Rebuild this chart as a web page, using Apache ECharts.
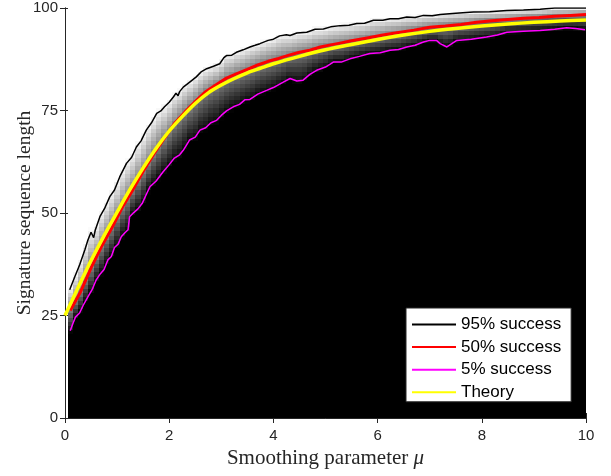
<!DOCTYPE html>
<html>
<head>
<meta charset="utf-8">
<script src="https://cdn.jsdelivr.net/npm/echarts@6/dist/echarts.min.js"></script>
<style>
  html, body { margin: 0; padding: 0; background: #ffffff; }
  #chart { width: 611px; height: 476px; }
</style>
</head>
<body>
<div id="chart"></div>
<script>
// Empirical success contours: [smoothing parameter mu, signature sequence length]
const contour95 = [
  [0.09,31.3],[0.19,34.5],[0.28,37.3],[0.38,41.0],[0.44,43.4],[0.50,45.3],[0.55,44.0],[0.58,45.8],
  [0.67,49.1],[0.76,51.1],[0.86,54.0],[0.95,55.6],[1.05,58.8],[1.18,62.1],[1.28,63.6],[1.37,66.1],
  [1.46,67.6],[1.56,70.2],[1.66,72.0],[1.76,74.3],[1.84,74.9],[1.91,75.9],[2.00,77.0],[2.08,78.3],
  [2.13,79.2],[2.17,78.6],[2.20,79.6],[2.27,80.7],[2.40,82.0],[2.52,83.2],[2.62,84.5],[2.72,85.2],
  [2.85,85.8],[2.97,86.4],[3.05,87.9],[3.10,88.4],[3.20,88.5],[3.29,89.2],[3.42,89.8],[3.55,90.5],
  [3.65,90.9],[3.74,91.3],[3.90,92.1],[4.00,92.4],[4.12,93.2],[4.25,93.5],[4.32,93.3],[4.45,93.9],
  [4.64,94.1],[4.80,94.8],[4.96,94.9],[5.10,95.4],[5.28,95.7],[5.45,95.8],[5.60,96.2],[5.75,96.3],
  [5.92,97.0],[6.10,97.0],[6.24,97.4],[6.40,97.4],[6.56,97.8],[6.72,97.7],[6.88,98.2],[7.05,98.1],
  [7.20,98.4],[7.50,98.7],[7.84,99.0],[8.15,99.1],[8.48,99.4],[8.80,99.5],[9.12,99.7],[9.40,100],[10,100]
];
const contour50 = [
  [0.10,26.2],[0.30,30.8],[0.50,36.6],[0.70,41.8],[0.90,46.4],[1.10,51.4],[1.30,55.6],[1.50,60.2],
  [1.70,64.3],[1.90,68.1],[2.10,71.8],[2.30,74.6],[2.50,77.2],[2.70,79.6],[2.90,81.3],[3.10,82.9],
  [3.30,84.0],[3.50,85.0],[3.70,86.1],[3.90,87.0],[4.10,87.7],[4.30,88.5],[4.50,89.2],[4.70,89.7],
  [4.90,90.5],[5.10,91.0],[5.30,91.5],[5.50,92.0],[5.80,92.7],[6.10,93.4],[6.40,94.0],[6.70,94.6],
  [7.00,95.3],[7.30,95.6],[7.60,96.0],[7.90,96.5],[8.20,96.9],[8.50,97.2],[8.80,97.5],[9.10,97.7],
  [9.40,98.0],[9.70,98.2],[10,98.4]
];
const contour5 = [
  [0.10,21.3],[0.15,23.0],[0.20,24.6],[0.28,25.6],[0.35,27.5],[0.45,29.8],[0.52,31.3],[0.60,33.7],
  [0.68,35.2],[0.75,36.2],[0.82,38.5],[0.89,39.4],[0.95,41.6],[1.02,42.4],[1.08,44.2],[1.15,45.2],
  [1.21,45.9],[1.24,49.1],[1.32,50.1],[1.40,51.0],[1.48,52.3],[1.56,54.5],[1.63,56.4],[1.75,57.8],
  [1.88,60.0],[2.00,61.8],[2.10,63.4],[2.20,64.2],[2.27,65.3],[2.39,67.8],[2.50,68.5],[2.59,70.2],
  [2.70,70.8],[2.80,72.0],[2.91,72.6],[3.00,73.8],[3.10,74.9],[3.23,75.9],[3.35,76.5],[3.45,77.6],
  [3.55,77.7],[3.70,79.0],[3.87,79.9],[4.00,80.6],[4.19,81.9],[4.32,82.8],[4.45,82.2],[4.57,82.4],
  [4.70,83.8],[4.83,84.8],[5.00,85.6],[5.15,86.8],[5.30,86.8],[5.47,87.6],[5.65,88.2],[5.85,88.9],
  [6.05,89.1],[6.24,89.7],[6.40,89.9],[6.56,90.5],[6.72,90.9],[6.88,91.7],[7.00,92.1],[7.13,92.1],
  [7.20,91.3],[7.33,90.5],[7.52,92.1],[7.80,92.4],[8.09,92.9],[8.30,93.4],[8.48,94.1],[8.80,94.3],
  [9.12,94.5],[9.40,94.8],[9.63,95.2],[9.80,95.0],[9.98,94.7]
];
// Predicted transition length
const theory = [
  [0,25],[0.25,31.8],[0.5,38.4],[0.75,44.5],[1,50.2],[1.25,55.8],[1.5,61.0],[1.75,65.8],[2,70.0],
  [2.25,73.5],[2.5,76.7],[2.75,79.3],[3,81.2],[3.25,82.8],[3.5,84.2],[3.75,85.3],[4,86.4],[4.5,88.2],
  [5,89.8],[5.5,91.1],[6,92.3],[6.5,93.4],[7,94.3],[7.5,95.0],[8,95.6],[8.5,96.1],[9,96.5],[9.5,96.8],[10,97.1]
];
// Grid of simulated cells
const muCells = Array.from({length: 100}, (_, i) => +((i + 1) / 10).toFixed(1));
const lengthCells = Array.from({length: 101}, (_, i) => i);
const seriesNames = ['95% success', '50% success', '5% success', 'Theory'];

function lengthAt(curve, mu) {
  if (mu <= curve[0][0]) return curve[0][1];
  for (let i = 1; i < curve.length; i++) {
    if (mu <= curve[i][0]) {
      const [x0, y0] = curve[i - 1], [x1, y1] = curve[i];
      return y0 + (y1 - y0) * (mu - x0) / (x1 - x0);
    }
  }
  return curve[curve.length - 1][1];
}

// Success rate of each cell, placed between the 5/50/95% levels of its column
function successRate(mu, len) {
  const a = lengthAt(contour5, mu), b = lengthAt(contour50, mu), c = lengthAt(contour95, mu);
  let v;
  if (len <= a) v = 0.05 - 0.45 * (a - len) / (b - a);
  else if (len <= b) v = 0.05 + 0.45 * (len - a) / (b - a);
  else if (len <= c) v = 0.5 + 0.45 * (len - b) / (c - b);
  else v = 0.95 + 0.45 * (len - c) / (c - b);
  return Math.max(0, Math.min(1, v));
}

const cells = [];
muCells.forEach(mu => lengthCells.forEach(len => cells.push([mu, len, successRate(mu, len)])));

const axisColor = '#262626';
const chart = echarts.init(document.getElementById('chart'), null, {renderer: 'canvas'});

function lineSeries(name, data, color, width, extra) {
  return Object.assign({
    name, type: 'line', data, showSymbol: false, symbol: 'none',
    lineStyle: {color, width}, itemStyle: {color}, z: 3, silent: true
  }, extra || {});
}

chart.setOption({
  animation: false,
  backgroundColor: '#ffffff',
  grid: {left: 65, right: 25, top: 8, bottom: 58, outerBoundsMode: 'none', containLabel: false},
  xAxis: [{
    type: 'value', min: 0, max: 10, interval: 2, position: 'bottom',
    name: 'Smoothing parameter {i|μ}', nameLocation: 'middle', nameGap: 30, nameMoveOverlap: false,
    nameTextStyle: {fontFamily: 'Liberation Serif', fontSize: 21, color: axisColor,
      rich: {i: {fontFamily: 'Liberation Serif', fontStyle: 'italic', fontSize: 21, color: axisColor}}},
    axisLine: {show: true, lineStyle: {color: axisColor, width: 1}},
    axisTick: {show: true, inside: true, length: 5, lineStyle: {color: axisColor}},
    axisLabel: {fontFamily: 'Liberation Sans', fontSize: 15, color: axisColor, margin: 10},
    splitLine: {show: false}
  }, {
    type: 'value', min: 0, max: 10, interval: 2, position: 'top',
    axisLine: {show: true, lineStyle: {color: axisColor, width: 1}},
    axisTick: {show: true, inside: true, length: 5, lineStyle: {color: axisColor}},
    axisLabel: {show: false}, splitLine: {show: false}
  }],
  yAxis: [{
    type: 'value', min: 0, max: 100, interval: 25, position: 'left',
    name: 'Signature sequence length', nameLocation: 'middle', nameGap: 30, nameMoveOverlap: false,
    nameTextStyle: {fontFamily: 'Liberation Serif', fontSize: 19.5, color: axisColor},
    axisLine: {show: true, lineStyle: {color: axisColor, width: 1}},
    axisTick: {show: true, inside: true, length: 5, lineStyle: {color: axisColor}},
    axisLabel: {fontFamily: 'Liberation Sans', fontSize: 15, color: axisColor, margin: 7},
    splitLine: {show: false}
  }, {
    type: 'value', min: 0, max: 100, interval: 25, position: 'right',
    axisLine: {show: true, lineStyle: {color: axisColor, width: 1}},
    axisTick: {show: true, inside: true, length: 5, lineStyle: {color: axisColor}},
    axisLabel: {show: false}, splitLine: {show: false}
  }],
  legend: {
    data: seriesNames, orient: 'vertical', left: 406, top: 308,
    padding: [8, 10, 1, 5], itemGap: 5.6, itemWidth: 44, itemHeight: 20,
    backgroundColor: '#ffffff', borderColor: '#262626', borderWidth: 1, borderRadius: 0,
    itemStyle: {opacity: 0},
    textStyle: {fontFamily: 'Liberation Sans', fontSize: 17, color: '#000000'},
    selectedMode: false
  },
  series: [
    {
      type: 'custom', name: 'success rate', data: cells, z: 1, silent: true,
      encode: {x: 0, y: 1},
      renderItem(params, api) {
        const mu = api.value(0), len = api.value(1), v = api.value(2);
        const p0 = api.coord([mu - 0.05, len + 0.5]);
        const p1 = api.coord([mu + 0.05, len - 0.5]);
        const x0 = Math.round(p0[0]), x1 = Math.round(p1[0]);
        const y0 = Math.round(p0[1]), y1 = Math.round(p1[1]);
        const shape = echarts.graphic.clipRectByRect(
          {x: x0, y: y0, width: x1 - x0, height: y1 - y0},
          {x: params.coordSys.x, y: params.coordSys.y, width: params.coordSys.width, height: params.coordSys.height}
        );
        if (!shape) return null;
        const g = Math.round(v * 255);
        return {type: 'rect', shape, style: {fill: 'rgb(' + g + ',' + g + ',' + g + ')', lineWidth: 0}};
      }
    },
    lineSeries(seriesNames[0], contour95, '#000000', 1.5),
    lineSeries(seriesNames[1], contour50, '#ff0000', 3),
    lineSeries(seriesNames[2], contour5, '#ff00ff', 1.5),
    lineSeries(seriesNames[3], theory, '#ffff00', 3.5, {smooth: 0.3, z: 4})
  ]
});
</script>
</body>
</html>
